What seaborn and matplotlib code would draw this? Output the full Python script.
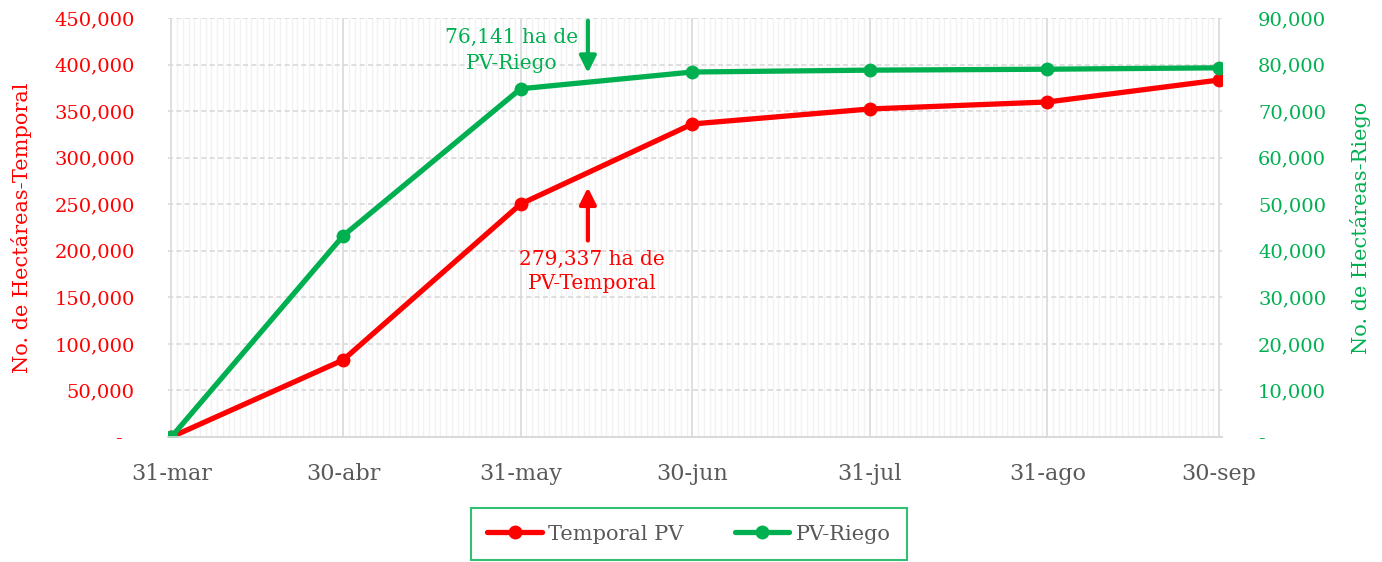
import pandas as pd
import matplotlib
matplotlib.use("Agg")
import matplotlib.pyplot as plt
import matplotlib.dates as mdates
import matplotlib.ticker as mticker
import seaborn as sns

# data
fechas = ["2023-03-31", "2023-04-30", "2023-05-31", "2023-06-30",
          "2023-07-31", "2023-08-31", "2023-09-30"]
etiquetas = ["31-mar", "30-abr", "31-may", "30-jun", "31-jul", "31-ago", "30-sep"]
temporal = [0, 82700, 250200, 336200, 352300, 359800, 383400]
riego = [0, 43200, 74800, 78400, 78800, 79000, 79300]

ROJO = "#FF0000"
VERDE = "#00B050"
GRIS = "#595959"

sns.set_style("white")
plt.rcParams["font.family"] = ["DejaVu Serif"]

df = pd.DataFrame({"fecha": pd.to_datetime(fechas), "Temporal PV": temporal, "PV-Riego": riego})

fig = plt.figure(figsize=(13.82, 5.62), dpi=100)
ax = fig.add_axes([168 / 1382, 1 - 437 / 562, (1222 - 168) / 1382, 419 / 562])
ax2 = ax.twinx()

sns.lineplot(data=df, x="fecha", y="Temporal PV", ax=ax, color=ROJO, lw=3.8,
             marker="o", markersize=10, markeredgewidth=0, label="Temporal PV", legend=False)
sns.lineplot(data=df, x="fecha", y="PV-Riego", ax=ax2, color=VERDE, lw=3.8,
             marker="o", markersize=10, markeredgewidth=0, label="PV-Riego", legend=False)

x0 = df["fecha"].iloc[0] - pd.Timedelta(hours=14)
x1 = df["fecha"].iloc[-1] + pd.Timedelta(hours=12)
ax.set_xlim(x0, x1)
ax.set_ylim(0, 450000)
ax2.set_ylim(0, 90000)

# x axis: month-end majors, daily minor grid
ax.xaxis.set_major_locator(mticker.FixedLocator(mdates.date2num(df["fecha"])))
ax.xaxis.set_major_formatter(mticker.FixedFormatter(etiquetas))
ax.xaxis.set_minor_locator(mdates.DayLocator())
ax.set_yticks(range(0, 450001, 50000))
ax2.set_yticks(range(0, 90001, 10000))

fmt = lambda v, p: "-  " if v == 0 else f"{int(v):,}"
fmt2 = lambda v, p: "-" if v == 0 else f"{int(v):,}"
ax.yaxis.set_major_formatter(mticker.FuncFormatter(fmt))
ax2.yaxis.set_major_formatter(mticker.FuncFormatter(fmt2))

ax.grid(True, axis="x", which="major", color="#D9D9D9", lw=1.2, ls="-")
ax.grid(True, axis="x", which="minor", color="#F2F2F2", lw=1.0, ls="-")
ax.grid(True, axis="y", which="major", color="#D9D9D9", lw=1.2, ls=(0, (3, 2)))
ax.set_axisbelow(True)

for a in (ax, ax2):
    for s in ("top", "left", "right"):
        a.spines[s].set_visible(False)
    a.spines["bottom"].set_color("#D9D9D9")
    a.spines["bottom"].set_linewidth(1.2)

ax.tick_params(axis="x", which="major", length=6, color="#D9D9D9", width=1.2,
               pad=13, labelsize=16, labelcolor=GRIS)
ax.tick_params(axis="x", which="minor", length=0)
ax.tick_params(axis="y", length=0, pad=24, labelsize=14, labelcolor=ROJO)
ax2.tick_params(axis="y", length=0, pad=26, labelsize=14, labelcolor=VERDE)

ax.set_xlabel("")
ax.set_ylabel("No. de Hectáreas-Temporal", color=ROJO, fontsize=15)
ax2.set_ylabel("No. de Hectáreas-Riego", color=VERDE, fontsize=15)
ax.yaxis.set_label_coords(-0.129, 0.5)
ax2.yaxis.set_label_coords(1.1215, 0.5)

# annotations
fa = pd.Timestamp("2023-06-11 18:00")
ax2.annotate("", xy=(fa, 77600), xytext=(fa, 90000),
             arrowprops=dict(arrowstyle="-|>,head_width=0.5,head_length=1.0", color=VERDE, lw=3),
             annotation_clip=False)
ax2.text(pd.Timestamp("2023-05-29 12:00"), 83000, "76,141 ha de\nPV-Riego", color=VERDE,
         fontsize=14.5, ha="center", va="center", linespacing=1.5)
ax.annotate("", xy=(fa, 271000), xytext=(fa, 208000),
            arrowprops=dict(arrowstyle="-|>,head_width=0.5,head_length=1.0", color=ROJO, lw=3))
ax.text(pd.Timestamp("2023-06-12 12:00"), 178000, "279,337 ha de\nPV-Temporal", color=ROJO,
        fontsize=14.5, ha="center", va="center", linespacing=1.35)

h1, l1 = ax.get_legend_handles_labels()
h2, l2 = ax2.get_legend_handles_labels()
leg = fig.legend(h1 + h2, l1 + l2, loc="center", bbox_to_anchor=(689 / 1382, 1 - 534 / 562),
                 ncol=2, frameon=True, fancybox=False, fontsize=15, handlelength=2.6,
                 columnspacing=2.5, handletextpad=0.3, borderpad=0.8, borderaxespad=0)
leg.get_frame().set_edgecolor(VERDE)
leg.get_frame().set_linewidth(1.5)
for t in leg.get_texts():
    t.set_color(GRIS)

fig.savefig("out.png", dpi=100)
